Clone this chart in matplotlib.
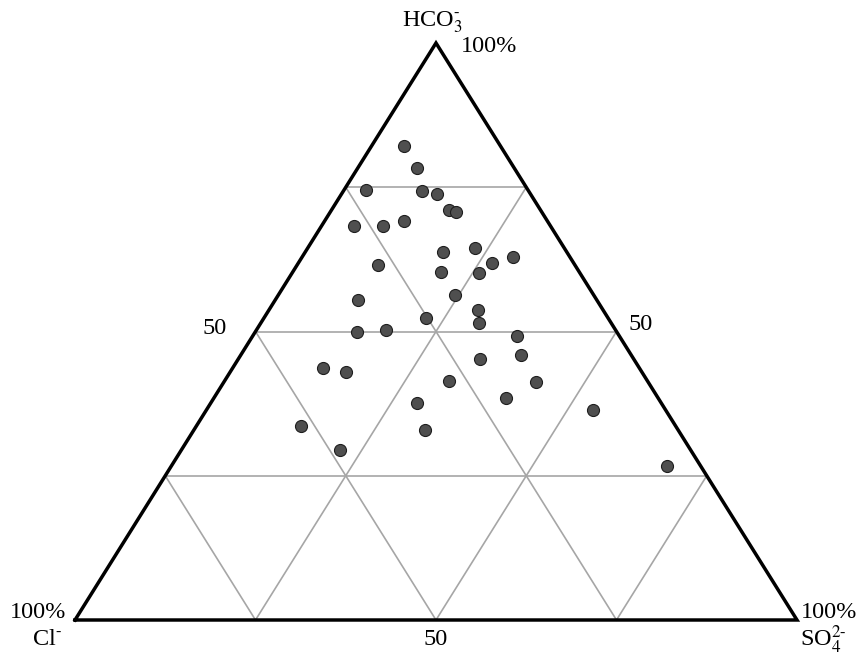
import matplotlib.pyplot as plt
import numpy as np

plt.rcParams['font.family'] = ['Liberation Serif', 'DejaVu Serif']
plt.rcParams['mathtext.fontset'] = 'stix'

# ternary composition (%) of each sample
hco3 = [82.2, 78.3, 74.5, 74.4, 73.8, 71.1, 70.7, 68.2, 68.2, 69.2,
        63.7, 64.5, 62.9, 61.8, 61.6, 60.3, 60.1, 56.4, 55.5, 53.7,
        51.5, 52.3, 50.0, 50.3, 49.3, 46.0, 45.2, 43.7, 43.0, 41.4,
        41.3, 38.5, 37.6, 36.4, 33.7, 32.9, 29.5, 26.7]
so4 = [4.5, 8.2, 3.0, 10.8, 13.3, 16.3, 17.4, 4.6, 8.6, 10.9,
       19.1, 23.2, 29.2, 26.8, 11.2, 20.5, 25.9, 24.5, 11.4, 29.0,
       30.2, 22.4, 14.1, 17.9, 36.6, 38.8, 33.5, 12.5, 16.0, 31.1,
       43.2, 40.4, 28.5, 53.6, 14.5, 32.0, 22.0, 68.6]
cl = [100 - a - b for a, b in zip(hco3, so4)]

H = 577 / 722  # triangle height relative to base


def to_xy(s, h):
    s = np.asarray(s) / 100.0
    h = np.asarray(h) / 100.0
    return s + 0.5 * h, h * H


fig = plt.figure(figsize=(8.66, 6.57), dpi=100)
ax = fig.add_axes([0, 0, 1, 1])
ax.set_xlim(-75 / 722, 791 / 722)
ax.set_ylim(-37 / 722, 620 / 722)
ax.axis('off')

# grid lines parallel to each side
grid_kw = dict(color='#a6a6a6', lw=1.2, zorder=1)
for f in (25, 50, 75):
    # constant HCO3
    x, y = to_xy([0, 100 - f], [f, f])
    ax.plot(x, y, **grid_kw)
    # constant SO4
    x, y = to_xy([f, f], [0, 100 - f])
    ax.plot(x, y, **grid_kw)
    # constant Cl
    x, y = to_xy([100 - f, 0], [0, 100 - f])
    ax.plot(x, y, **grid_kw)

# outer triangle
x, y = to_xy([0, 100, 0, 0], [0, 0, 100, 0])
ax.plot(x, y, color='black', lw=2.5, solid_joinstyle='miter', zorder=2)

px, py = to_xy(so4, hco3)
ax.scatter(px, py, s=75, facecolor='#4f4f4f', edgecolor='#1e1e1e',
           linewidth=0.8, zorder=3)

fs = 17.5
ax.text(0.4945, 0.828, r'HCO$_3^{\text{-}}$', fontsize=fs, ha='center', va='center')
ax.text(0.534, 0.795, '100%', fontsize=fs, ha='left', va='center')
ax.text(0.194, 0.404, '50', fontsize=fs, ha='center', va='center')
ax.text(0.783, 0.409, '50', fontsize=fs, ha='center', va='center')
ax.text(0.5, -0.0277, '50', fontsize=fs, ha='center', va='center')
ax.text(-0.0512, 0.011, '100%', fontsize=fs, ha='center', va='center')
ax.text(-0.0388, -0.0277, r'Cl$^{\text{-}}$', fontsize=fs, ha='center', va='center')
ax.text(1.0055, 0.011, '100%', fontsize=fs, ha='left', va='center')
ax.text(1.036, -0.0277, r'SO$_4^{\text{2-}}$', fontsize=fs, ha='center', va='center')

fig.savefig('out.png', dpi=100)
